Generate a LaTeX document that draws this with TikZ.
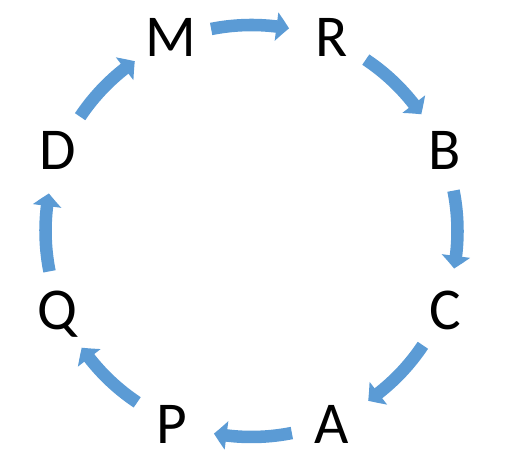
\documentclass[tikz,border=0pt]{standalone}
\usepackage{fontspec}
\setmainfont{Carlito}
\usetikzlibrary{calc,arrows.meta,bending}
\definecolor{arrowblue}{HTML}{5B9BD5}
\tikzset{
  lbl/.style={font=\fontsize{44.5pt}{50pt}\selectfont, text height=28.1pt, text depth=0pt, inner sep=0pt, text=black},
  cyc/.style={draw=arrowblue, line width=9.4pt,
    -{Triangle[width=21pt,length=9.5pt,bend]},
    to path={let \p1=($(\tikztostart)-(O)$), \n1={atan2(\y1,\x1)} in
      ($(O)+(\n1-11.2:154.5pt)$) arc[start angle=\n1-11.2, delta angle=-21.8, radius=154.5pt]}}
}
\begin{document}
\begin{tikzpicture}[x=0.75pt,y=0.75pt]
\useasboundingbox (0,0) rectangle (521,466);
\coordinate (O) at (251.5,235);
\node[lbl] (M) at ($(O)+(112.5:209.5)$) {M};
\node[lbl] (R) at ($(O)+(67.5:209.5)$) {R};
\node[lbl] (B) at ($(O)+(22.5:209.5)$) {B};
\node[lbl] (C) at ($(O)+(-22.5:209.5)$) {C};
\node[lbl] (A) at ($(O)+(-67.5:209.5)$) {A};
\node[lbl] (P) at ($(O)+(-112.5:209.5)$) {P};
\node[lbl] (Q) at ($(O)+(-157.5:209.5)$) {Q};
\node[lbl] (D) at ($(O)+(157.5:209.5)$) {D};
\draw[cyc] (M) to (R);
\draw[cyc] (R) to (B);
\draw[cyc] (B) to (C);
\draw[cyc] (C) to (A);
\draw[cyc] (A) to (P);
\draw[cyc] (P) to (Q);
\draw[cyc] (Q) to (D);
\draw[cyc] (D) to (M);
\end{tikzpicture}
\end{document}
